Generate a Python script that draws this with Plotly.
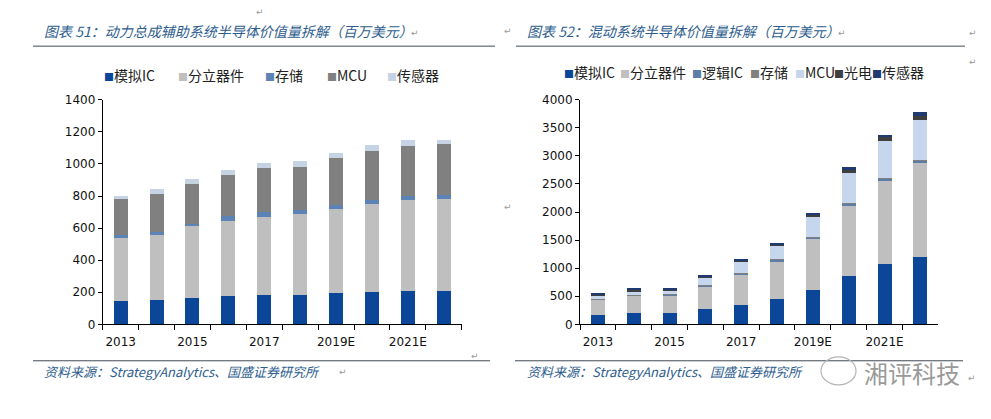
import plotly.graph_objects as go

W, H = 991, 419

years = ["2013", "2014", "2015", "2016", "2017", "2018", "2019E", "2020E", "2021E", "2022E"]
tick_labels = ["2013", "", "2015", "", "2017", "", "2019E", "", "2021E", ""]

# 图表 51：动力总成辅助系统
names_51 = ["模拟IC", "分立器件", "存储", "MCU", "传感器"]
analog_51 = [145, 153, 165, 177, 183, 183, 195, 201, 207, 207]
discrete_51 = [395, 407, 445, 470, 488, 502, 524, 550, 568, 574]
memory_51 = [20, 18, 18, 30, 30, 30, 26, 22, 26, 24]
mcu_51 = [221, 235, 247, 253, 271, 269, 293, 307, 312, 318]
sensor_51 = [20, 32, 31, 30, 32, 34, 30, 37, 36, 28]
colors_51 = ["#0C4698", "#BFBFBF", "#5B83B6", "#808080", "#C5D3E5"]

# 图表 52：混动系统
names_52 = ["模拟IC", "分立器件", "逻辑IC", "存储", "MCU", "光电", "传感器"]
analog_52 = [166, 195, 195, 269, 350, 453, 608, 861, 1078, 1199]
discrete_52 = [274, 315, 320, 411, 543, 675, 920, 1264, 1492, 1671]
logic_52 = [12, 14, 14, 18, 20, 22, 25, 30, 35, 45]
memory_52 = [5, 5, 5, 6, 7, 8, 10, 10, 10, 10]
mcu_52 = [65, 61, 66, 133, 194, 242, 354, 532, 657, 719]
opto_52 = [18, 28, 19, 16, 25, 25, 35, 52, 58, 70]
sensor_52 = [16, 24, 16, 13, 20, 21, 28, 46, 50, 63]
colors_52 = ["#0C4698", "#BFBFBF", "#5B7DA6", "#7F7F7F", "#C6D6EC", "#3F3F3F", "#1F3A70"]

series_51 = [analog_51, discrete_51, memory_51, mcu_51, sensor_51]
series_52 = [analog_52, discrete_52, logic_52, memory_52, mcu_52, opto_52, sensor_52]

TITLE_COLOR = "#2E5E8E"
CJK = "Noto Sans CJK SC"
NUM = "DejaVu Sans"


def px(x):
    return x / W


def py(y):
    return 1 - y / H


fig = go.Figure()
for name, vals, c in zip(names_51, series_51, colors_51):
    fig.add_trace(go.Bar(x=years, y=vals, name=name, marker=dict(color=c, line=dict(width=0)),
                         xaxis="x", yaxis="y", showlegend=False))
for name, vals, c in zip(names_52, series_52, colors_52):
    fig.add_trace(go.Bar(x=years, y=vals, name=name, marker=dict(color=c, line=dict(width=0)),
                         xaxis="x2", yaxis="y2", showlegend=False))

xcommon = dict(type="category", showline=True, linecolor="#000", linewidth=1,
               ticks="outside", ticklen=5, tickcolor="#000", tickson="boundaries",
               tickmode="array", tickvals=years, ticktext=tick_labels, tickangle=0,
               ticklabelstandoff=6,
               showgrid=False, zeroline=False,
               tickfont=dict(family=NUM, size=12, color="#111"))
ycommon = dict(showline=True, linecolor="#000", linewidth=1, ticks="outside", ticklen=4,
               tickcolor="#000", showgrid=False, zeroline=False,
               tickfont=dict(family=NUM, size=12, color="#111"))

ydom = [py(328.3), py(96)]

fig.update_layout(
    width=W, height=H,
    margin=dict(l=0, r=0, t=0, b=0),
    paper_bgcolor="#FFFFFF", plot_bgcolor="#FFFFFF",
    barmode="stack", bargap=0.61,
    xaxis=dict(domain=[px(102.7), px(461.7)], anchor="y", **xcommon),
    yaxis=dict(domain=ydom, anchor="x", range=[0, 1400], dtick=200, **ycommon),
    xaxis2=dict(domain=[px(580), px(938.3)], anchor="y2", **xcommon),
    yaxis2=dict(domain=ydom, anchor="x2", range=[0, 4000], dtick=500, **ycommon),
)

annotations = []
shapes = []

# Titles
annotations.append(dict(text="<i>图表 51：动力总成辅助系统半导体价值量拆解（百万美元）</i>",
                        x=px(42), y=py(25), xref="paper", yref="paper", xanchor="left",
                        yanchor="middle", showarrow=False,
                        font=dict(family=CJK, size=14, color=TITLE_COLOR)))
annotations.append(dict(text="<i>图表 52：混动系统半导体价值量拆解（百万美元）</i>",
                        x=px(525), y=py(25), xref="paper", yref="paper", xanchor="left",
                        yanchor="middle", showarrow=False,
                        font=dict(family=CJK, size=14, color=TITLE_COLOR)))
# Sources
for x0 in (42, 525):
    annotations.append(dict(text="<i>资料来源：StrategyAnalytics、国盛证券研究所</i>",
                            x=px(x0), y=py(377), xref="paper", yref="paper", xanchor="left",
                            yanchor="middle", showarrow=False,
                            font=dict(family=CJK, size=13, color=TITLE_COLOR)))

# Paragraph marks
for (mx, my) in [(260, 5), (415, 27), (508, 25), (842, 27), (973, 27), (973, 57),
                 (475, 361), (508, 207), (343, 378), (972, 384)]:
    annotations.append(dict(text="↵", x=px(mx), y=py(my), xref="paper", yref="paper",
                            xanchor="center", yanchor="middle", showarrow=False,
                            font=dict(family=NUM, size=9, color="#999")))

# Rules
for (x0, x1) in [(33, 495), (516, 965)]:
    shapes.append(dict(type="line", xref="paper", yref="paper", x0=px(x0), x1=px(x1),
                       y0=py(40.5), y1=py(40.5), line=dict(color="#404A55", width=1)))
for (x0, x1) in [(33, 490), (515, 963)]:
    shapes.append(dict(type="line", xref="paper", yref="paper", x0=px(x0), x1=px(x1),
                       y0=py(366), y1=py(366), line=dict(color="#404A55", width=1)))

# Legends (built from series names/colours)
leg51_x = [101.7, 175.7, 263.3, 325, 385]
leg52_x = [561.7, 618.3, 690, 748.3, 792.7, 831.7, 870]
for name, c, lx in zip(names_51, colors_51, leg51_x):
    annotations.append(dict(text=f"<span style='font-size:10px;color:{c}'>■</span>{name}",
                            x=px(lx), y=py(70), xref="paper", yref="paper", xanchor="left",
                            yanchor="middle", showarrow=False,
                            font=dict(family=CJK, size=14, color="#222")))
for name, c, lx in zip(names_52, colors_52, leg52_x):
    annotations.append(dict(text=f"<span style='font-size:10px;color:{c}'>■</span>{name}",
                            x=px(lx), y=py(67), xref="paper", yref="paper", xanchor="left",
                            yanchor="middle", showarrow=False,
                            font=dict(family=CJK, size=14, color="#222")))

# Watermark
annotations.append(dict(text="湘评科技", x=px(862), y=py(378), xref="paper", yref="paper",
                        xanchor="left", yanchor="middle", showarrow=False,
                        font=dict(family=CJK, size=24, color="#9A9A9A")))
shapes.append(dict(type="circle", xref="paper", yref="paper", x0=px(821), x1=px(856),
                   y0=py(391), y1=py(362), line=dict(color="#B5B5B5", width=1.2)))

fig.update_layout(annotations=annotations, shapes=shapes)

fig.write_html(
    "out.html", config={"displayModeBar": False},
    post_script=("document.documentElement.style.margin='0';"
                 "document.documentElement.style.overflow='hidden';"
                 "document.body.style.margin='0';document.body.style.padding='0';"
                 "document.body.style.overflow='hidden';window.scrollTo(0,0);"))
